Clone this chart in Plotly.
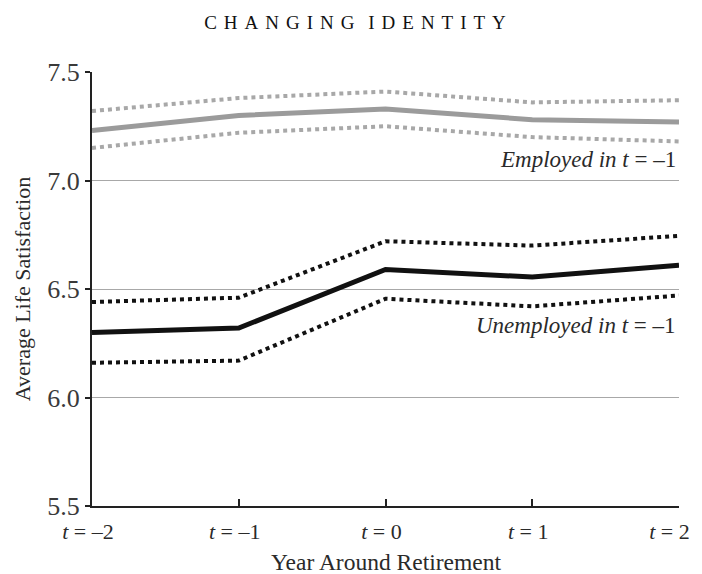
import plotly.graph_objects as go

years = [-2, -1, 0, 1, 2]
tick_labels = ["<i>t</i> = –2", "<i>t</i> = –1", "<i>t</i> = 0", "<i>t</i> = 1", "<i>t</i> = 2\u2002"]

employed_mean = [7.23, 7.30, 7.33, 7.28, 7.27]
employed_upper = [7.32, 7.38, 7.41, 7.36, 7.37]
employed_lower = [7.15, 7.22, 7.25, 7.20, 7.18]

unemployed_mean = [6.30, 6.32, 6.59, 6.555, 6.61]
unemployed_upper = [6.44, 6.46, 6.72, 6.70, 6.745]
unemployed_lower = [6.16, 6.17, 6.455, 6.42, 6.47]

SERIF = "Liberation Serif, Times New Roman, serif"
GRAY = "#9b9b9b"
GRAY_DOT = "#a8a8a8"
BLACK = "#111111"
TXT = "#2a2a2a"

fig = go.Figure()
for ys, col, w, dash in [
    (employed_upper, GRAY_DOT, 4, "dot"),
    (employed_lower, GRAY_DOT, 4, "dot"),
    (employed_mean, GRAY, 5, "solid"),
    (unemployed_upper, BLACK, 4, "dot"),
    (unemployed_lower, BLACK, 4, "dot"),
    (unemployed_mean, BLACK, 5, "solid"),
]:
    fig.add_trace(go.Scatter(x=years, y=ys, mode="lines",
                             line=dict(color=col, width=w, dash=dash),
                             showlegend=False, hoverinfo="skip"))

fig.add_annotation(x=2, y=7.095, xref="x", yref="y", xanchor="right", yanchor="middle",
                   xshift=-1,
                   text="<i>Employed in t</i> = –1", showarrow=False,
                   font=dict(family=SERIF, size=23, color=TXT))
fig.add_annotation(x=2, y=6.334, xref="x", yref="y", xanchor="right", yanchor="middle",
                   xshift=-1,
                   text="<i>Unemployed in t</i> = –1", showarrow=False,
                   font=dict(family=SERIF, size=23, color=TXT))
fig.add_annotation(x=0.5, y=0, xref="paper", yref="paper", xanchor="center", yanchor="middle",
                   yshift=-56, text="Year Around Retirement", showarrow=False,
                   font=dict(family=SERIF, size=23.5, color=TXT))

sp = "\u2009\u200a\u200a"
title_text = sp.join(list("CHANGING")) + "\u2009\u00a0\u2009\u200a" + sp.join(list("IDENTITY"))

H = 566
fig.update_layout(
    width=694, height=H,
    margin=dict(l=84, r=23, t=64, b=H - 64 - 434),
    paper_bgcolor="white", plot_bgcolor="white",
    title=dict(text=title_text, x=0.5, xanchor="center", y=1 - 14 / H, yanchor="middle",
               font=dict(family=SERIF, size=19, color="#111111")),
    font=dict(family=SERIF, color=TXT),
    xaxis=dict(range=[-2, 2], tickmode="array", tickvals=years, ticktext=tick_labels,
               automargin=False, ticklabeloverflow="allow",
               showgrid=False, zeroline=False, showline=True, linecolor="#222222", linewidth=2,
               ticks="inside", ticklen=7, tickwidth=1.5, tickcolor="#222222",
               ticklabelstandoff=5, ticklabelshift=-4,
               tickfont=dict(family=SERIF, size=22, color=TXT)),
    yaxis=dict(range=[5.5, 7.5], tickmode="array", tickvals=[5.5, 6.0, 6.5, 7.0, 7.5],
               ticktext=["5.5", "6.0", "6.5", "7.0", "7.5"],
               automargin=False,
               showgrid=True, gridcolor="#a8a8a8", gridwidth=1.2, zeroline=False,
               showline=True, linecolor="#222222", linewidth=2,
               ticks="outside", ticklen=5, tickwidth=1.5, tickcolor="#222222",
               tickfont=dict(family=SERIF, size=26, color="#3a3a3a"),
               title=dict(text="Average Life Satisfaction", font=dict(family=SERIF, size=22, color=TXT),
                          standoff=11)),
)

fig.write_html("out.html")
